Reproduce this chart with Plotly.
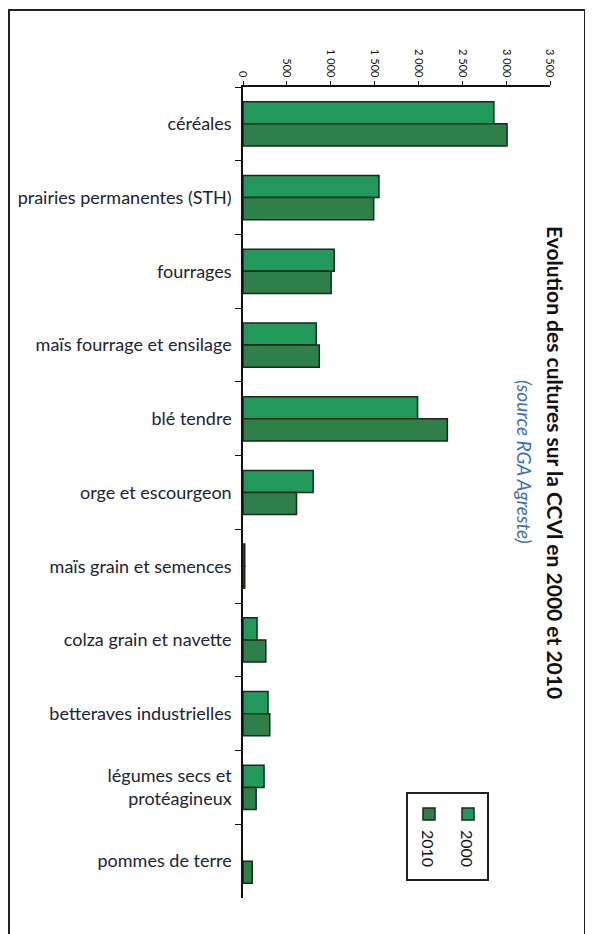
import plotly.graph_objects as go

categories = [
    "céréales",
    "prairies permanentes (STH)",
    "fourrages",
    "maïs fourrage et ensilage",
    "blé tendre",
    "orge et escourgeon",
    "maïs grain et semences",
    "colza grain et navette",
    "betteraves industrielles",
    "légumes secs et<br>protéagineux",
    "pommes de terre",
]
values_2000 = [2860, 1550, 1040, 835, 1990, 800, 20, 160, 285, 240, None]
values_2010 = [3010, 1490, 1005, 870, 2330, 610, 20, 260, 305, 150, 105]
tick_vals = [0, 500, 1000, 1500, 2000, 2500, 3000, 3500]

OFF = 8  # default page body margin
W, H = 593 - OFF, 934 - OFF
L, R, T, B = 243 - OFF, 550 - OFF, 87 - OFF, 898 - OFF

def px(x):
    return (x - OFF - L) / (R - L)

def py(y):
    return 1 - (y - OFF - T) / (B - T)

COL_2000 = "#23985b"
COL_2010 = "#2f8048"
TXT = "#1c2333"
FONT = "Lato, Open Sans, sans-serif"

fig = go.Figure()
fig.add_trace(go.Bar(y=categories, x=values_2000, orientation="h", name="2000",
                     marker=dict(color=COL_2000, line=dict(color="#1b261d", width=1.5))))
fig.add_trace(go.Bar(y=categories, x=values_2010, orientation="h", name="2010",
                     marker=dict(color=COL_2010, line=dict(color="#1b261d", width=1.5))))

fig.update_layout(
    width=W, height=H,
    margin=dict(l=L, r=W - R, t=T, b=H - B, pad=0),
    paper_bgcolor="white", plot_bgcolor="white",
    barmode="group", bargap=0.4, bargroupgap=0,
    showlegend=False,
    separators=", ",
    font=dict(family=FONT, color=TXT),
)
fig.update_xaxes(
    side="top", range=[0, 3500], tickvals=tick_vals, separatethousands=True,
    tickangle=90, tickfont=dict(size=11, color="#111"),
    showgrid=False, zeroline=False, showline=True, linecolor="#111", linewidth=1.5,
    ticks="outside", ticklen=4, tickcolor="#111",
)
fig.update_yaxes(
    autorange="reversed", tickson="boundaries", ticks="outside", ticklen=6,
    tickcolor="#111", showline=True, linecolor="#111", linewidth=1.5,
    tickfont=dict(size=18, color=TXT), showgrid=False, automargin=False,
    ticklabelstandoff=6,
)

shapes = []
# outer frame
shapes.append(dict(type="rect", xref="paper", yref="paper",
                   x0=px(9), x1=px(585), y0=py(960), y1=py(10),
                   line=dict(color="#222", width=2), fillcolor="rgba(0,0,0,0)"))
# legend box
shapes.append(dict(type="rect", xref="paper", yref="paper",
                   x0=px(407), x1=px(488), y0=py(880), y1=py(793),
                   line=dict(color="#222", width=2), fillcolor="white"))
for xc, col in [(429, COL_2010), (468, COL_2000)]:
    shapes.append(dict(type="rect", xref="paper", yref="paper",
                       x0=px(xc - 6), x1=px(xc + 6), y0=py(820), y1=py(808),
                       line=dict(color="#222", width=1.5), fillcolor=col))

annotations = [
    dict(text="<b>Evolution des cultures sur la CCVl en 2000 et 2010</b>",
         x=px(556), y=py(462), xref="paper", yref="paper", showarrow=False,
         textangle=90, font=dict(size=21, color="#111", family=FONT),
         xanchor="center", yanchor="middle"),
    dict(text="<i>(source RGA Agreste)</i>",
         x=px(525), y=py(462), xref="paper", yref="paper", showarrow=False,
         textangle=90, font=dict(size=19, color="#3d6db5", family=FONT),
         xanchor="center", yanchor="middle"),
    dict(text="2010", x=px(429), y=py(848), xref="paper", yref="paper",
         showarrow=False, textangle=90, font=dict(size=16, color="#111", family=FONT),
         xanchor="center", yanchor="middle"),
    dict(text="2000", x=px(468), y=py(848), xref="paper", yref="paper",
         showarrow=False, textangle=90, font=dict(size=16, color="#111", family=FONT),
         xanchor="center", yanchor="middle"),
]
fig.update_layout(shapes=shapes, annotations=annotations)

fig.write_html("out.html")
